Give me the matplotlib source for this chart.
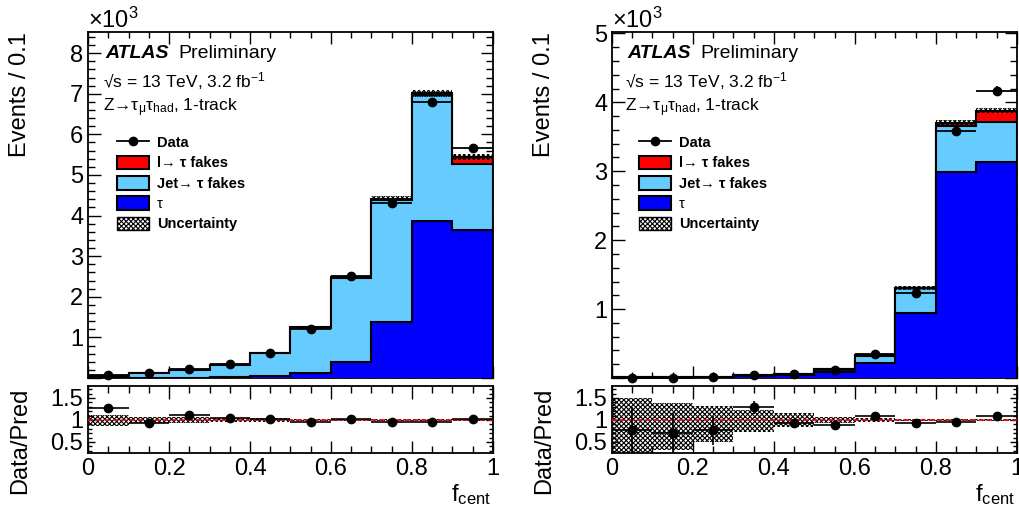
import numpy as np
import matplotlib
matplotlib.use("Agg")
import matplotlib.pyplot as plt
from matplotlib.patches import Patch
from matplotlib.lines import Line2D
from matplotlib.ticker import MultipleLocator, FixedLocator

plt.rcParams['font.family'] = ['Liberation Sans', 'DejaVu Sans']
plt.rcParams['mathtext.fontset'] = 'custom'
plt.rcParams['mathtext.rm'] = 'Liberation Sans'
plt.rcParams['mathtext.it'] = 'Liberation Sans:italic'
plt.rcParams['mathtext.bf'] = 'Liberation Sans:bold'
plt.rcParams['hatch.linewidth'] = 0.8

# bin edges of f_cent
edges = [0.0, 0.1, 0.2, 0.3, 0.4, 0.5, 0.6, 0.7, 0.8, 0.9, 1.0]

# left panel, events in units of 10^3
tau_L = [0.003, 0.004, 0.006, 0.012, 0.05, 0.13, 0.39, 1.39, 3.87, 3.65]
jet_L = [0.046, 0.125, 0.192, 0.305, 0.565, 1.11, 2.075, 3.0, 3.11, 1.62]
lep_L = [0.001, 0.001, 0.002, 0.003, 0.005, 0.01, 0.015, 0.02, 0.03, 0.17]
unc_L = [0.003, 0.004, 0.005, 0.006, 0.01, 0.02, 0.04, 0.06, 0.08, 0.07]
data_L = [0.065, 0.12, 0.22, 0.34, 0.62, 1.20, 2.51, 4.32, 6.79, 5.66]
derr_L = [0.008, 0.011, 0.015, 0.019, 0.025, 0.035, 0.05, 0.066, 0.082, 0.075]
ratio_L = [1.27, 0.92, 1.11, 1.05, 1.02, 0.96, 1.02, 0.96, 0.95, 1.02]
rerr_L = [0.06, 0.04, 0.04, 0.03, 0.02, 0.015, 0.01, 0.01, 0.01, 0.01]
band_hi_L = [1.12, 1.07, 1.07, 1.05, 1.04, 1.03, 1.025, 1.025, 1.025, 1.025]
band_lo_L = [0.86, 0.93, 0.93, 0.95, 0.96, 0.97, 0.975, 0.975, 0.975, 0.975]

# right panel
tau_R = [0.004, 0.005, 0.006, 0.025, 0.04, 0.08, 0.22, 0.94, 2.99, 3.14]
jet_R = [0.004, 0.004, 0.005, 0.014, 0.018, 0.047, 0.105, 0.36, 0.67, 0.57]
lep_R = [0.0005, 0.0005, 0.0005, 0.001, 0.002, 0.003, 0.005, 0.01, 0.04, 0.17]
unc_R = [0.001, 0.001, 0.001, 0.002, 0.003, 0.005, 0.01, 0.03, 0.04, 0.04]
data_R = [0.007, 0.007, 0.009, 0.05, 0.055, 0.115, 0.355, 1.23, 3.59, 4.17]
derr_R = [0.004, 0.004, 0.005, 0.007, 0.008, 0.011, 0.019, 0.035, 0.06, 0.065]
ratio_R = [0.77, 0.71, 0.77, 1.29, 0.92, 0.89, 1.09, 0.94, 0.96, 1.08]
rerr_R = [0.52, 0.45, 0.33, 0.15, 0.07, 0.05, 0.03, 0.02, 0.015, 0.015]
band_hi_R = [1.49, 1.38, 1.32, 1.23, 1.15, 1.07, 1.05, 1.03, 1.025, 1.025]
band_lo_R = [0.2, 0.32, 0.49, 0.73, 0.85, 0.93, 0.95, 0.97, 0.975, 0.975]

legend_labels = ['Data', 'l\u2192 \u03c4 fakes', 'Jet\u2192 \u03c4 fakes', '\u03c4', 'Uncertainty']

c_lep = '#ff0000'
c_jet = '#66ccff'
c_tau = '#0000ff'
HATCH = 'xxxxxxx'


def style_axes(ax, ymajor, yminor, xlen=8.5, ylen=8.5):
    ax.set_xlim(0, 1)
    ax.xaxis.set_major_locator(MultipleLocator(0.2))
    ax.xaxis.set_minor_locator(MultipleLocator(0.05))
    ax.yaxis.set_major_locator(ymajor)
    ax.yaxis.set_minor_locator(MultipleLocator(yminor))
    ax.tick_params(which='both', direction='in', top=True, right=True, labelsize=17)
    ax.tick_params(axis='x', which='major', length=xlen, width=1)
    ax.tick_params(axis='x', which='minor', length=xlen * 0.55, width=1)
    ax.tick_params(axis='y', which='major', length=ylen, width=1)
    ax.tick_params(axis='y', which='minor', length=ylen * 0.55, width=1)
    for s in ax.spines.values():
        s.set_linewidth(1.3)


def draw_panel(fig, x0, tau, jet, lep, unc, data, derr, ratio, rerr, bhi, blo, ymax, leg_x, txt_x, ev_x):
    w = 0.397
    ax = fig.add_axes([x0, 0.2603, w, 0.677])
    rax = fig.add_axes([x0, 0.1135, w, 0.131])
    tau = np.array(tau)
    s1 = tau + np.array(jet)
    s2 = s1 + np.array(lep)
    unc = np.array(unc)

    ax.stairs(s2, edges, baseline=0, fill=True, facecolor=c_lep, edgecolor='k', lw=1.5, zorder=2)
    ax.stairs(s1, edges, baseline=0, fill=True, facecolor=c_jet, edgecolor='k', lw=1.5, zorder=3)
    ax.stairs(tau, edges, baseline=0, fill=True, facecolor=c_tau, edgecolor='k', lw=1.5, zorder=4)
    ax.stairs(s2 + unc, edges, baseline=s2 - unc, fill=True, facecolor='none',
              edgecolor='k', hatch=HATCH, lw=0, zorder=5)
    centers = 0.5 * (np.array(edges[:-1]) + np.array(edges[1:]))
    ax.errorbar(centers, data, xerr=0.05, yerr=derr, fmt='o', color='k', ms=6,
                lw=1.3, capsize=0, zorder=6, clip_on=False)
    ax.set_ylim(0, ymax)
    style_axes(ax, MultipleLocator(1), 0.2, xlen=8.5, ylen=9)
    ax.yaxis.set_major_formatter(lambda v, p: '' if v == 0 else '%d' % v)
    ax.tick_params(axis='x', labelbottom=False)

    # ratio panel
    rax.stairs(bhi, edges, baseline=blo, fill=True, facecolor='none', edgecolor='k',
               hatch=HATCH, lw=0, zorder=2)
    rax.axhline(1, color='red', ls=(0, (3, 2)), lw=1.2, zorder=3)
    rax.errorbar(centers, ratio, xerr=0.05, yerr=rerr, fmt='o', color='k', ms=6,
                 lw=1.2, capsize=0, zorder=4)
    rax.set_ylim(0.25, 1.77)
    style_axes(rax, FixedLocator([0.5, 1.0, 1.5]), 0.1, xlen=9, ylen=5)
    rax.yaxis.set_major_formatter(lambda v, p: '%g' % v)
    rax.xaxis.set_major_formatter(lambda v, p: '%g' % v)

    # texts
    fig.text(x0, 0.945, '\u00d710$^{3}$', fontsize=17, ha='left', va='baseline')
    fig.text(txt_x, 0.896, 'ATLAS', fontsize=14, weight='bold', style='italic', va='center')
    fig.text(txt_x + 0.072, 0.896, 'Preliminary', fontsize=14, va='center')
    fig.text(txt_x - 0.002, 0.841, '\u221as = 13 TeV, 3.2 fb$^{-1}$', fontsize=12.5, va='center')
    fig.text(txt_x - 0.002, 0.789, 'Z\u2192$\\mathregular{\u03c4_{\u03bc}\u03c4_{had}}$, 1-track',
             fontsize=12.5, va='center')
    fig.text(ev_x, 0.937, 'Events / 0.1', fontsize=17, rotation=90, ha='center', va='top')
    fig.text(ev_x, 0.2407, 'Data/Pred', fontsize=17, rotation=90, ha='center', va='top')
    fig.text(x0 + w - 0.002, 0.02, '$\\mathregular{f_{cent}}$', fontsize=17, ha='right', va='baseline')

    handles = [
        Line2D([0], [0], color='k', marker='o', ms=6, lw=1.3),
        Patch(facecolor=c_lep, edgecolor='k', lw=1.5),
        Patch(facecolor=c_jet, edgecolor='k', lw=1.5),
        Patch(facecolor=c_tau, edgecolor='k', lw=1.5),
        Patch(facecolor='white', edgecolor='k', hatch=HATCH, lw=1),
    ]
    leg = fig.legend(handles, legend_labels, loc='upper left', bbox_to_anchor=(leg_x, 0.735),
                     frameon=False, prop={'size': 10.5, 'weight': 'bold'}, borderpad=0,
                     handlelength=2.2, handleheight=1.05, handletextpad=0.55, labelspacing=0.38,
                     borderaxespad=0)
    leg.get_texts()[3].set_fontweight('normal')
    return ax, rax


fig = plt.figure(figsize=(10.2, 5.11), dpi=100)
draw_panel(fig, 0.0863, tau_L, jet_L, lep_L, unc_L, data_L, derr_L, ratio_L, rerr_L,
           band_hi_L, band_lo_L, 8.52, 0.1147, 0.103, 0.0196)
draw_panel(fig, 0.600, tau_R, jet_R, lep_R, unc_R, data_R, derr_R, ratio_R, rerr_R,
           band_hi_R, band_lo_R, 5.02, 0.6265, 0.6147, 0.533)
fig.savefig('out.png', dpi=100)
